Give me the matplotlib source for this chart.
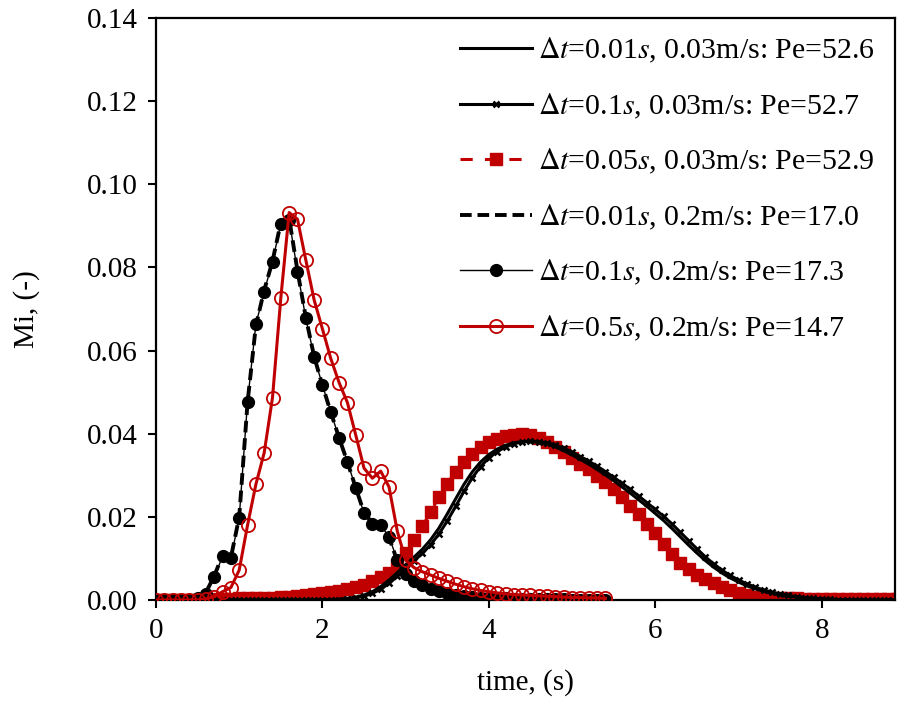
import numpy as np
import matplotlib
matplotlib.use("Agg")
import matplotlib.pyplot as plt
from matplotlib.ticker import FormatStrFormatter

plt.rcParams['font.family'] = ['Liberation Serif', 'DejaVu Serif']
plt.rcParams['mathtext.fontset'] = 'stix'

RED = '#C00000'

# time axes
t_slow = np.round(np.arange(0, 91) * 0.1, 1)      # 0 .. 9.0
t_fast = np.round(np.arange(0, 55) * 0.1, 1)      # 0 .. 5.4

# Δt=0.01 s, 0.03 m/s (black solid)
mi_slow_001 = [0]*20 + [
    0.0001, 0.0001, 0.0002, 0.0004, 0.0007, 0.0012, 0.0020, 0.0032, 0.0048, 0.0066,
    0.0085, 0.0103, 0.0122, 0.0145, 0.0173, 0.0207, 0.0243, 0.0278, 0.0308, 0.0332,
    0.0350, 0.0363, 0.0372, 0.0378, 0.0381, 0.0381, 0.0379, 0.0375, 0.0368, 0.0359,
    0.0349, 0.0338, 0.0327, 0.0314, 0.0301, 0.0287, 0.0272, 0.0257, 0.0241, 0.0225,
    0.0208, 0.0191, 0.0172, 0.0152, 0.0132, 0.0113, 0.0095, 0.0079, 0.0065, 0.0053,
    0.0043, 0.0034, 0.0027, 0.0021, 0.0016, 0.0012, 0.0009, 0.0007, 0.0005, 0.0003,
    0.0002, 0.0001, 0.0001, 0.0001, 0.0001, 0.0, 0.0, 0.0, 0.0, 0.0, 0.0]

# Δt=0.1 s, 0.03 m/s (black x)
mi_slow_01 = [0]*23 + [
    0.0002, 0.0005, 0.0009, 0.0016, 0.0026, 0.0040, 0.0057,
    0.0075, 0.0094, 0.0112, 0.0133, 0.0159, 0.0190, 0.0225, 0.0261, 0.0294, 0.0321,
    0.0342, 0.0357, 0.0368, 0.0376, 0.0380, 0.0382, 0.0381, 0.0378, 0.0373, 0.0365,
    0.0356, 0.0345, 0.0334, 0.0322, 0.0309, 0.0295, 0.0281, 0.0266, 0.0250, 0.0234,
    0.0218, 0.0201, 0.0183, 0.0163, 0.0143, 0.0123, 0.0104, 0.0087, 0.0072, 0.0059,
    0.0048, 0.0039, 0.0031, 0.0024, 0.0019, 0.0014, 0.0011, 0.0008, 0.0006, 0.0004,
    0.0003, 0.0002, 0.0001, 0.0001, 0.0001, 0.0001, 0.0, 0.0, 0.0, 0.0, 0.0]

# Δt=0.05 s, 0.03 m/s (red squares)
mi_slow_005 = [
    0.0, 0.0, 0.0, 0.0, 0.0, 0.0, 0.0001, 0.0002, 0.0003, 0.0003,
    0.0004, 0.0004, 0.0005, 0.0005, 0.0006, 0.0007, 0.0008, 0.0010, 0.0012, 0.0014,
    0.0016, 0.0019, 0.0022, 0.0026, 0.0031, 0.0037, 0.0045, 0.0055, 0.0066, 0.0085,
    0.0113, 0.0144, 0.0177, 0.0212, 0.0248, 0.0280, 0.0309, 0.0333, 0.0352, 0.0367,
    0.0379, 0.0388, 0.0394, 0.0398, 0.0399, 0.0396, 0.0390, 0.0381, 0.0369, 0.0356,
    0.0342, 0.0328, 0.0314, 0.0299, 0.0283, 0.0266, 0.0247, 0.0227, 0.0206, 0.0184,
    0.0160, 0.0134, 0.0110, 0.0090, 0.0074, 0.0061, 0.0050, 0.0040, 0.0032, 0.0024,
    0.0017, 0.0011, 0.0008, 0.0006, 0.0005, 0.0004, 0.0004, 0.0004, 0.0003, 0.0003,
    0.0003, 0.0003, 0.0003, 0.0002, 0.0002, 0.0002, 0.0002, 0.0002, 0.0002, 0.0002, 0.0002]

# Δt=0.01 s, 0.2 m/s (black dashed)
mi_fast_001 = [
    0.0, 0.0, 0.0, 0.0, 0.0001, 0.0006, 0.0018, 0.0058, 0.0108, 0.0102,
    0.0200, 0.0475, 0.0660, 0.0745, 0.0815, 0.0908, 0.0918, 0.0792, 0.0680, 0.0586,
    0.0516, 0.0452, 0.0390, 0.0332, 0.0270, 0.0210, 0.0185, 0.0178, 0.0150, 0.0094,
    0.0060, 0.0044, 0.0034, 0.0026, 0.0020, 0.0015, 0.0012, 0.0010, 0.0008, 0.0006,
    0.0005, 0.0004, 0.0004, 0.0003, 0.0003, 0.0003, 0.0002, 0.0002, 0.0002, 0.0002,
    0.0001, 0.0001, 0.0001, 0.0001, 0.0001]

# Δt=0.1 s, 0.2 m/s (black circles)
mi_fast_01 = [
    0.0, 0.0, 0.0, 0.0, 0.0001, 0.0005, 0.0015, 0.0055, 0.0105, 0.0100,
    0.0198, 0.0477, 0.0663, 0.0742, 0.0814, 0.0905, 0.0915, 0.0790, 0.0678, 0.0585,
    0.0517, 0.0453, 0.0389, 0.0333, 0.0269, 0.0209, 0.0184, 0.0180, 0.0152, 0.0096,
    0.0062, 0.0045, 0.0035, 0.0027, 0.0021, 0.0016, 0.0012, 0.0010, 0.0008, 0.0006,
    0.0005, 0.0004, 0.0004, 0.0003, 0.0003, 0.0003, 0.0002, 0.0002, 0.0002, 0.0002,
    0.0001, 0.0001, 0.0001, 0.0001, 0.0001]

# Δt=0.5 s, 0.2 m/s (red open circles)
mi_fast_05 = [
    0.0, 0.0, 0.0, 0.0, 0.0, 0.0, 0.0003, 0.0008, 0.0020, 0.0030,
    0.0072, 0.0180, 0.0278, 0.0354, 0.0487, 0.0727, 0.0932, 0.0916, 0.0818, 0.0722,
    0.0652, 0.0581, 0.0523, 0.0475, 0.0397, 0.0317, 0.0293, 0.0310, 0.0272, 0.0165,
    0.0096, 0.0078, 0.0068, 0.0060, 0.0052, 0.0045, 0.0038, 0.0032, 0.0027, 0.0023,
    0.0020, 0.0017, 0.0015, 0.0013, 0.0012, 0.0011, 0.0010, 0.0009, 0.0008, 0.0007,
    0.0006, 0.0006, 0.0005, 0.0005, 0.0004]

labels = [
    r'$\Delta t$=0.01$s$, 0.03m/s: Pe=52.6',
    r'$\Delta t$=0.1$s$, 0.03m/s: Pe=52.7',
    r'$\Delta t$=0.05$s$, 0.03m/s: Pe=52.9',
    r'$\Delta t$=0.01$s$, 0.2m/s: Pe=17.0',
    r'$\Delta t$=0.1$s$, 0.2m/s: Pe=17.3',
    r'$\Delta t$=0.5$s$, 0.2m/s: Pe=14.7',
]

FS = 21
FS_LEG = 21.5

fig = plt.figure(figsize=(8.97, 7.02), dpi=100)
ax = fig.add_axes([156/897, 1-600/702, (895-156)/897, (600-18)/702])

ax.plot(t_slow, mi_slow_001, color='black', lw=2.2, label=labels[0], zorder=3)
ax.plot(t_slow, mi_slow_01, color='black', lw=2.2, marker='x', ms=5, mew=1.8,
        label=labels[1], zorder=3)
ax.plot(t_slow, mi_slow_005, color=RED, lw=2.2, ls=(0, (4, 4)), marker='s', ms=8,
        mec=RED, mfc=RED, label=labels[2], zorder=2)
ax.plot(t_fast, mi_fast_001, color='black', lw=2.8, ls=(0, (3, 1.5)), label=labels[3], zorder=3)
ax.plot(t_fast, mi_fast_01, color='black', lw=1.0, marker='o', ms=8.5,
        mfc='black', mec='black', label=labels[4], zorder=3)
ax.plot(t_fast, mi_fast_05, color=RED, lw=2.2, marker='o', ms=9.5, mfc='none',
        mec=RED, mew=1.3, label=labels[5], zorder=4)

ax.set_xlim(0, 8.88)
ax.set_ylim(0, 0.14)
ax.set_xticks([0, 2, 4, 6, 8])
ax.set_yticks(np.arange(0, 0.141, 0.02))
ax.yaxis.set_major_formatter(FormatStrFormatter('%.2f'))
ax.tick_params(direction='out', length=6, width=1.5, labelsize=FS, pad=7)
for s in ax.spines.values():
    s.set_linewidth(1.6)
ax.set_xlabel('time, (s)', fontsize=FS, labelpad=18)
ax.set_ylabel('Mi, (-)', fontsize=FS, labelpad=34)

leg = ax.legend(loc='upper right', frameon=False, fontsize=FS_LEG, handlelength=2.4,
                labelspacing=0.88, handletextpad=0.2, borderaxespad=0.2,
                bbox_to_anchor=(0.997, 1.0))

fig.savefig('out.png', dpi=100)
